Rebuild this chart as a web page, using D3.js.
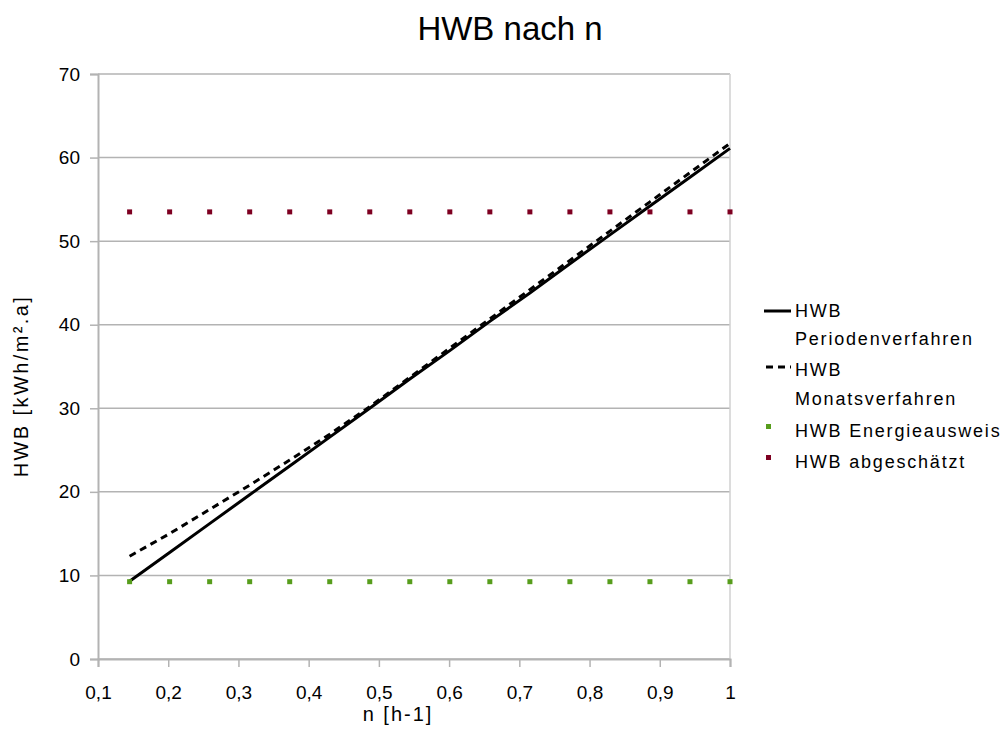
<!DOCTYPE html>
<html>
<head>
<meta charset="utf-8">
<script src="https://cdn.jsdelivr.net/npm/d3@7"></script>
<style>
  html, body { margin: 0; padding: 0; background: #fff; }
  svg { display: block; font-family: "Liberation Sans", Arial, sans-serif; }
</style>
</head>
<body>
<svg id="chart" width="1005" height="753"></svg>
<script>
// ---- data ----
const nValues = [0.145, 0.202, 0.259, 0.316, 0.373, 0.430, 0.487, 0.544, 0.601, 0.658, 0.715, 0.772, 0.829, 0.886, 0.943, 1.0];
const hwbPerioden = [9.3, 12.75, 16.2, 19.65, 23.1, 26.55, 30.0, 33.5, 36.9, 40.4, 43.8, 47.3, 50.75, 54.2, 57.65, 61.1];
const hwbMonat = [12.3, 15.0, 17.9, 20.8, 23.8, 26.9, 30.2, 33.7, 37.2, 40.7, 44.2, 47.7, 51.2, 54.7, 58.2, 61.7];
const hwbEnergieausweis = [9.25, 9.25, 9.25, 9.25, 9.25, 9.25, 9.25, 9.25, 9.25, 9.25, 9.25, 9.25, 9.25, 9.25, 9.25, 9.25];
const hwbAbgeschaetzt = [53.5, 53.5, 53.5, 53.5, 53.5, 53.5, 53.5, 53.5, 53.5, 53.5, 53.5, 53.5, 53.5, 53.5, 53.5, 53.5];
const xTicks = [0.1, 0.2, 0.3, 0.4, 0.5, 0.6, 0.7, 0.8, 0.9, 1.0];
const yTicks = [0, 10, 20, 30, 40, 50, 60, 70];
const seriesNames = ["HWB Periodenverfahren", "HWB Monatsverfahren", "HWB Energieausweis", "HWB abgeschätzt"];
const title = "HWB nach n";
const xTitle = "n [h-1]";
const yTitle = "HWB [kWh/m².a]";

// ---- layout ----
const svg = d3.select("#chart");
const plot = { left: 98, right: 730, top: 74, bottom: 659 };
const x = d3.scaleLinear().domain([0.1, 1.0]).range([plot.left, plot.right]);
const y = d3.scaleLinear().domain([0, 70]).range([plot.bottom, plot.top]);
const gridColor = "#b3b3b3";
const green = "#579d1c", red = "#7e0021";

// gridlines
svg.append("g").selectAll("line").data(yTicks).join("line")
  .attr("x1", plot.left).attr("x2", plot.right)
  .attr("y1", d => y(d)).attr("y2", d => y(d))
  .attr("stroke", gridColor).attr("stroke-width", 1.5);
// right border
svg.append("line").attr("x1", plot.right).attr("x2", plot.right)
  .attr("y1", plot.top).attr("y2", plot.bottom)
  .attr("stroke", "#d0d0d0").attr("stroke-width", 1.5);

const fmt = d => d3.format(".1f")(d).replace(/\.0$/, "").replace(".", ",");

// axes
const yAxis = svg.append("g").attr("transform", `translate(${plot.left},0)`)
  .call(d3.axisLeft(y).tickValues(yTicks).tickSize(8).tickPadding(10).tickFormat(d => d));
const xAxis = svg.append("g").attr("transform", `translate(0,${plot.bottom})`)
  .call(d3.axisBottom(x).tickValues(xTicks).tickSize(8).tickPadding(19).tickFormat(d => d === 1 ? "1" : fmt(d)));
[yAxis, xAxis].forEach(a => {
  a.select(".domain").attr("stroke", gridColor).attr("stroke-width", 2);
  a.selectAll(".tick line").attr("stroke", gridColor).attr("stroke-width", 1.5);
  a.selectAll(".tick text").attr("fill", "#000").style("font-size", "19px")
    .style("font-family", "'Liberation Sans', Arial, sans-serif");
});

// series
const line = d3.line().x(d => x(d[0])).y(d => y(d[1]));
svg.append("path").datum(d3.zip(nValues, hwbPerioden))
  .attr("d", line).attr("fill", "none").attr("stroke", "#000").attr("stroke-width", 3);
svg.append("path").datum(d3.zip(nValues, hwbMonat))
  .attr("d", line).attr("fill", "none").attr("stroke", "#000").attr("stroke-width", 3)
  .attr("stroke-dasharray", "7,5");

const sq = 5;
svg.append("g").selectAll("rect").data(d3.zip(nValues, hwbEnergieausweis)).join("rect")
  .attr("x", d => x(d[0]) - sq / 2).attr("y", d => y(d[1]) - sq / 2)
  .attr("width", sq).attr("height", sq).attr("fill", green);
svg.append("g").selectAll("rect").data(d3.zip(nValues, hwbAbgeschaetzt)).join("rect")
  .attr("x", d => x(d[0]) - sq / 2).attr("y", d => y(d[1]) - sq / 2)
  .attr("width", sq).attr("height", sq).attr("fill", red);

// titles
svg.append("text").attr("x", 510).attr("y", 40).attr("text-anchor", "middle")
  .style("font-size", "33px").text(title);
svg.append("text").attr("x", 398).attr("y", 721).attr("text-anchor", "middle")
  .style("font-size", "20px").style("letter-spacing", "2px").text(xTitle);
svg.append("text").attr("transform", "translate(28,386) rotate(-90)").attr("text-anchor", "middle")
  .style("font-size", "20px").style("letter-spacing", "2.4px").text(yTitle);

// legend
const lg = svg.append("g").style("font-size", "18px").style("letter-spacing", "1.8px");
const tx = 795;
// item 1
lg.append("line").attr("x1", 764).attr("x2", 791).attr("y1", 311).attr("y2", 311)
  .attr("stroke", "#000").attr("stroke-width", 3);
lg.append("text").attr("x", tx).attr("y", 317).text("HWB");
lg.append("text").attr("x", tx).attr("y", 345).text("Periodenverfahren");
// item 2
lg.append("line").attr("x1", 766).attr("x2", 791).attr("y1", 367).attr("y2", 367)
  .attr("stroke", "#000").attr("stroke-width", 3).attr("stroke-dasharray", "7,5");
lg.append("text").attr("x", tx).attr("y", 376).text("HWB");
lg.append("text").attr("x", tx).attr("y", 405).text("Monatsverfahren");
// item 3
lg.append("rect").attr("x", 766).attr("y", 424).attr("width", sq).attr("height", sq).attr("fill", green);
lg.append("text").attr("x", tx).attr("y", 437).text(seriesNames[2]);
// item 4
lg.append("rect").attr("x", 766).attr("y", 455).attr("width", sq).attr("height", sq).attr("fill", red);
lg.append("text").attr("x", tx).attr("y", 468).text(seriesNames[3]);
</script>
</body>
</html>
